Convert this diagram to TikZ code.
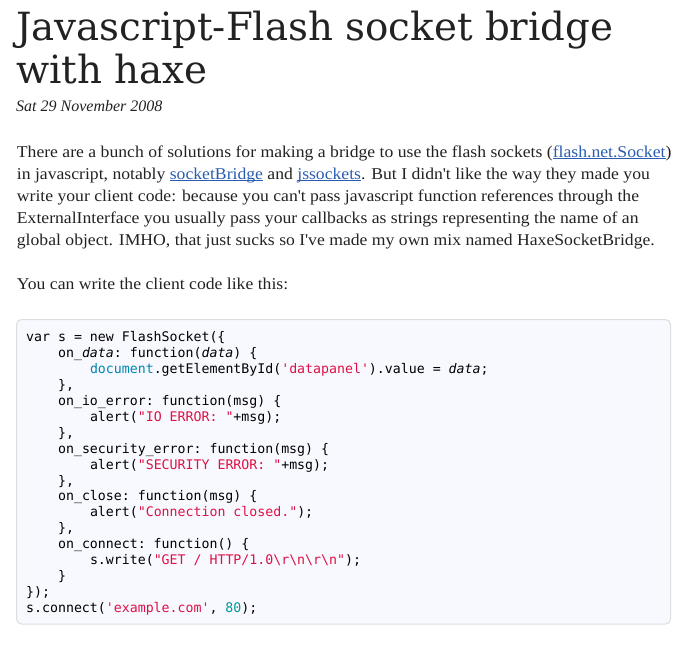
\documentclass[tikz,border=0pt]{standalone}
\usepackage{fontspec}
\setmainfont{Liberation Serif}
\setmonofont{DejaVu Sans Mono}
\newfontfamily\titlefont{DejaVu Serif}
\newfontfamily\bodyfont[FakeStretch=1.07]{Liberation Serif}
\usetikzlibrary{positioning}

\definecolor{inkdark}{HTML}{222222}
\definecolor{linkblue}{HTML}{2A5DB0}
\definecolor{strred}{HTML}{DD1144}
\definecolor{docblue}{HTML}{0086B3}
\definecolor{numteal}{HTML}{009999}
\definecolor{boxfill}{HTML}{F8F8FF}
\definecolor{boxline}{HTML}{DEDEDE}

\newcommand{\weblink}[1]{\textcolor{linkblue}{\setbox0\hbox{#1}\rlap{\rule[-2pt]{\wd0}{0.7pt}}\box0}}
\newcommand{\str}[1]{\textcolor{strred}{#1}}
\newcommand{\apos}{\textquotesingle}

\begin{document}
\begin{tikzpicture}[%
    x=1pt, y=-1pt,
    every node/.style={inner sep=0pt, anchor=base west, text=inkdark},
    headline/.style={font=\titlefont\fontsize{38.8}{42}\selectfont},
    dateline/.style={font=\itshape\fontsize{16}{20}\selectfont},
    textline/.style={font=\bodyfont\fontsize{16.5}{22}\selectfont},
    codeline/.style={font=\ttfamily\fontsize{13.24}{16}\selectfont, text=black},
    codebox/.style={draw=boxline, fill=boxfill, rounded corners=5pt, line width=1pt}
    ]
    \useasboundingbox (0,0) rectangle (683,645);

    % heading
    \node[headline] (title1) at (16,40) {Javascript-Flash socket bridge};
    \node[headline] (title2) at (16,83) {with haxe};
    \node[dateline] (date)   at (16,111) {Sat 29 November 2008};

    % paragraph
    \node[textline] (par1) at (16.7,157) {There are a bunch of solutions for making a bridge to use the flash sockets (\weblink{flash.net.Socket})};
    \node[textline] (par2) at (16.7,179) {in javascript, notably \weblink{socketBridge} and \weblink{jssockets}. But I didn\apos t like the way they made you};
    \node[textline] (par3) at (16.7,201) {write your client code: because you can\apos t pass javascript function references through the};
    \node[textline] (par4) at (16.7,223) {ExternalInterface you usually pass your callbacks as strings representing the name of an};
    \node[textline] (par5) at (16.7,245) {global object. IMHO, that just sucks so I\apos ve made my own mix named HaxeSocketBridge.};
    \node[textline] (intro) at (16.7,289) {You can write the client code like this:};

    % code listing
    \draw[codebox] (16.5,319.5) rectangle (670.5,624);
    \node[codeline] (code1)  at (26,341.5)   {var s = new FlashSocket(\{};
    \node[codeline] (code2)  at (57.9,357.4) {on\_\textit{data}: function(\textit{data}) \{};
    \node[codeline] (code3)  at (89.8,373.4) {\textcolor{docblue}{document}.getElementById(\str{'datapanel'}).value = \textit{data};};
    \node[codeline] (code4)  at (57.9,389.3) {\},};
    \node[codeline] (code5)  at (57.9,405.3) {on\_io\_error: function(msg) \{};
    \node[codeline] (code6)  at (89.8,421.2) {alert(\str{"IO ERROR: "}+msg);};
    \node[codeline] (code7)  at (57.9,437.1) {\},};
    \node[codeline] (code8)  at (57.9,453.1) {on\_security\_error: function(msg) \{};
    \node[codeline] (code9)  at (89.8,469.0) {alert(\str{"SECURITY ERROR: "}+msg);};
    \node[codeline] (code10) at (57.9,485.0) {\},};
    \node[codeline] (code11) at (57.9,500.9) {on\_close: function(msg) \{};
    \node[codeline] (code12) at (89.8,516.8) {alert(\str{"Connection closed."});};
    \node[codeline] (code13) at (57.9,532.8) {\},};
    \node[codeline] (code14) at (57.9,548.7) {on\_connect: function() \{};
    \node[codeline] (code15) at (89.8,564.7) {s.write(\str{"GET / HTTP/1.0\textbackslash r\textbackslash n\textbackslash r\textbackslash n"});};
    \node[codeline] (code16) at (57.9,580.6) {\}};
    \node[codeline] (code17) at (26,596.5)   {\});};
    \node[codeline] (code18) at (26,612.5)   {s.connect(\str{'example.com'}, \textcolor{numteal}{80});};
\end{tikzpicture}
\end{document}
